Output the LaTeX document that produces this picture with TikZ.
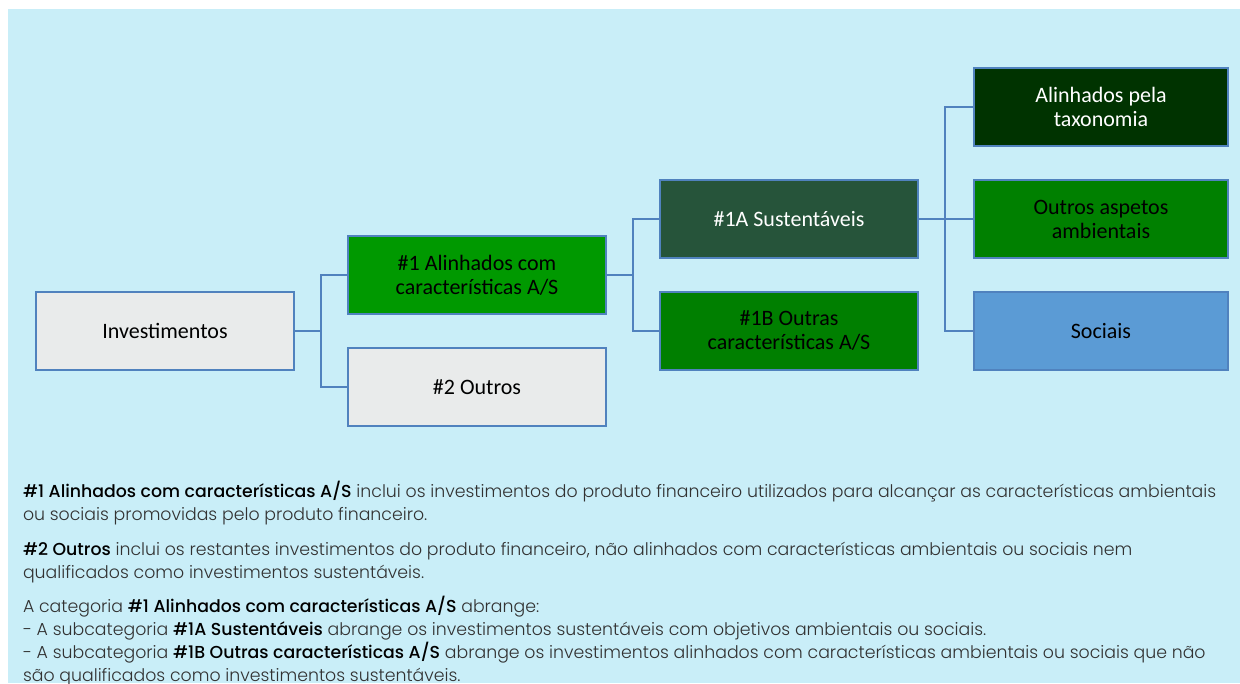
\documentclass[tikz,border=0pt]{standalone}
\usepackage{fontspec}
\setmainfont{Poppins}[UprightFont=* Light,BoldFont=* Medium]
\newfontfamily\boxfont{Carlito}
\usepackage{tikz}
\usetikzlibrary{trees}
\usepackage{xcolor}
\definecolor{bgblue}{RGB}{201,238,248}
\definecolor{boxline}{RGB}{80,130,190}
\definecolor{greyfill}{RGB}{233,235,235}
\definecolor{alinhgreen}{RGB}{0,153,0}
\definecolor{sustgreen}{RGB}{38,84,58}
\definecolor{outrasgreen}{RGB}{0,127,0}
\definecolor{taxgreen}{RGB}{0,51,0}
\definecolor{ambgreen}{RGB}{0,128,0}
\definecolor{socblue}{RGB}{91,155,213}
\definecolor{textgrey}{RGB}{50,50,50}

\begin{document}
\begin{tikzpicture}[x=0.75pt,y=-0.75pt,every node/.style={rectangle,draw=boxline,line width=1.5pt,minimum width=194pt,minimum height=58.5pt,align=center,font=\boxfont\fontsize{16.5}{18}\selectfont},
  grow'=right,level distance=234pt,sibling distance=84pt,
  edge from parent/.style={draw=boxline,line width=1.5pt},
  edge from parent path={(\tikzparentnode.east) -- ++(19.5pt,0) |- (\tikzchildnode.west)},
  grey/.style={fill=greyfill},
  alinh/.style={fill=alinhgreen},
  sust/.style={fill=sustgreen,text=white},
  outras/.style={fill=outrasgreen},
  tax/.style={fill=taxgreen,text=white,minimum width=191pt},
  amb/.style={fill=ambgreen,minimum width=191pt},
  soc/.style={fill=socblue,minimum width=191pt},
  note/.style={draw=none,fill=none,anchor=base west,align=left,inner sep=0pt,minimum width=0pt,minimum height=0pt,text=textgrey,font=\fontsize{13}{17.25}\selectfont}]

    \useasboundingbox (0,0) rectangle (1240,683);
    \fill[bgblue] (8,9) rectangle (1240,683);

    \node[grey] (inv) at (165,331) {Investimentos}
        child { node[alinh] (alinh) {\#1 Alinhados com\\características A/S}
            child { node[sust] (sust) {\#1A Sustentáveis}
                child { node[tax] (tax) {Alinhados pela\\taxonomia} }
                child { node[amb] (amb) {Outros aspetos\\ambientais} }
                child { node[soc] (soc) {Sociais} }
            }
            child { node[outras] (outras) {\#1B Outras\\características A/S} }
        }
        child { node[grey] (outros) {\#2 Outros} };

    \node[note] (p1) at (22,520) {\textbf{\color{black}\#1 Alinhados com características A/S} inclui os investimentos do produto financeiro utilizados para alcançar as características ambientais\\ou sociais promovidas pelo produto financeiro.};
    \node[note] (p2) at (22,578) {\textbf{\color{black}\#2 Outros} inclui os restantes investimentos do produto financeiro, não alinhados com características ambientais ou sociais nem\\qualificados como investimentos sustentáveis.};
    \node[note] (p3) at (22,681) {A categoria \textbf{\color{black}\#1 Alinhados com características A/S} abrange:\\- A subcategoria \textbf{\color{black}\#1A Sustentáveis} abrange os investimentos sustentáveis com objetivos ambientais ou sociais.\\- A subcategoria \textbf{\color{black}\#1B Outras características A/S} abrange os investimentos alinhados com características ambientais ou sociais que não\\são qualificados como investimentos sustentáveis.};
\end{tikzpicture}
\end{document}
